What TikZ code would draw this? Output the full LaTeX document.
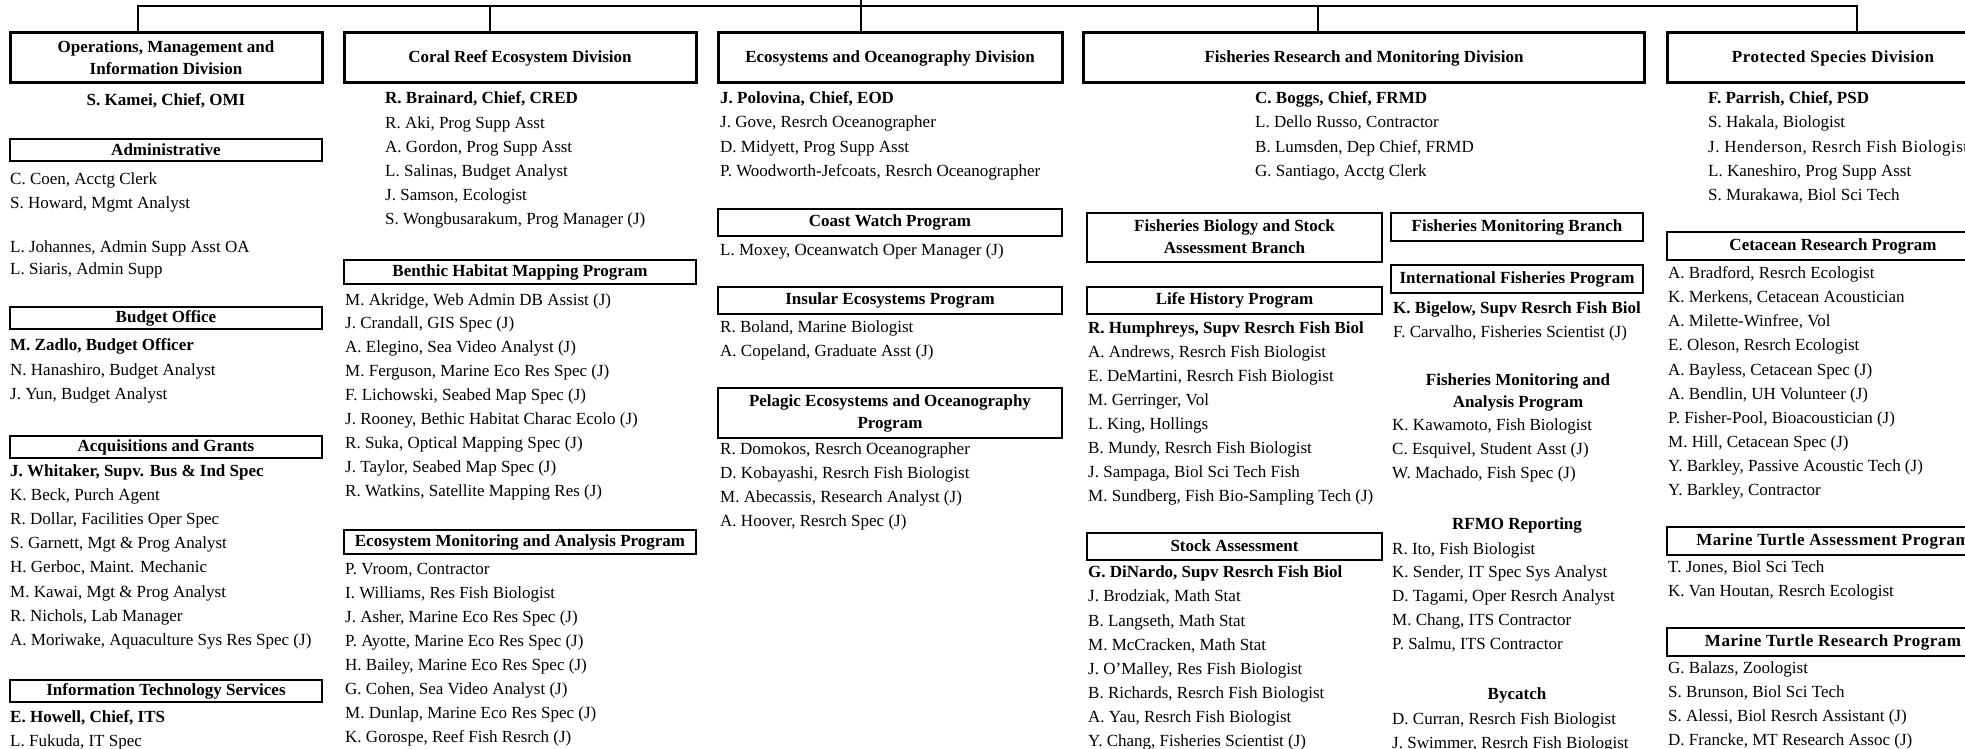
\documentclass[tikz,border=0pt]{standalone}
\usepackage{fontspec}
\setmainfont{Liberation Serif}
\usetikzlibrary{positioning}
\newcommand{\spread}{\addfontfeatures{LetterSpace=3}}

\begin{document}
\fontsize{17}{22}\selectfont
\begin{tikzpicture}[
    x=1pt, y=-1pt,
    division/.style={rectangle, draw, line width=3pt, minimum height=50pt, inner sep=0pt, align=center, font=\bfseries},
    unit/.style={rectangle, draw, line width=2pt, minimum height=25pt, inner sep=0pt, align=center, font=\bfseries},
    subhead/.style={inner sep=0pt, align=center, font=\bfseries},
    staff/.style={anchor=west, inner sep=0pt, text height=11.5pt, text depth=0pt},
    chief/.style={staff, font=\bfseries},
    link/.style={line width=2.7pt}
]
\useasboundingbox (0,0) rectangle (1965,749);
\clip (0,0) rectangle (1965,749);

% Operations, Management and Information Division
\node[division, minimum width=312pt] (omi) at (166,58) {Operations, Management and\\Information Division};
\node[chief, anchor=center] (omi0) at (166,100) {S. Kamei, Chief, OMI};

\node[unit, minimum width=312pt, minimum height=22pt] (admin) at (166,150) {Administrative};
\node[staff] (admin1) at (10,179) {C. Coen, Acctg Clerk};
\node[staff] (admin2) at (10,203) {S. Howard, Mgmt Analyst};
\node[staff] (admin3) at (10,247) {L. Johannes, Admin Supp Asst OA};
\node[staff] (admin4) at (10,269) {L. Siaris, Admin Supp};

\node[unit, minimum width=312pt, minimum height=22pt] (budget) at (166,318) {Budget Office};
\node[chief] (budget1) at (10,345) {M. Zadlo, Budget Officer};
\node[staff] (budget2) at (10,370) {N. Hanashiro, Budget Analyst};
\node[staff] (budget3) at (10,394) {J. Yun, Budget Analyst};

\node[unit, minimum width=312pt, minimum height=22pt] (acq) at (166,447) {Acquisitions and Grants};
\node[chief] (acq1) at (10,471) {J. Whitaker, Supv. Bus \& Ind Spec};
\node[staff] (acq2) at (10,495) {K. Beck, Purch Agent};
\node[staff] (acq3) at (10,519) {R. Dollar, Facilities Oper Spec};
\node[staff] (acq4) at (10,543) {S. Garnett, Mgt \& Prog Analyst};
\node[staff] (acq5) at (10,567) {H. Gerboc, Maint. Mechanic};
\node[staff] (acq6) at (10,592) {M. Kawai, Mgt \& Prog Analyst};
\node[staff] (acq7) at (10,616) {R. Nichols, Lab Manager};
\node[staff] (acq8) at (10,640) {A. Moriwake, Aquaculture Sys Res Spec (J)};

\node[unit, minimum width=312pt, minimum height=22pt] (its) at (166,691) {Information Technology Services};
\node[chief] (its1) at (10,717) {E. Howell, Chief, ITS};
\node[staff] (its2) at (10,741) {L. Fukuda, IT Spec};

% Coral Reef Ecosystem Division
\node[division, minimum width=352pt] (cred) at (520,58) {Coral Reef Ecosystem Division};
\node[chief] (cred0) at (385,98) {R. Brainard, Chief, CRED};
\node[staff] (cred1) at (385,123) {R. Aki, Prog Supp Asst};
\node[staff] (cred2) at (385,147) {A. Gordon, Prog Supp Asst};
\node[staff] (cred3) at (385,171) {L. Salinas, Budget Analyst};
\node[staff] (cred4) at (385,195) {J. Samson, Ecologist};
\node[staff] (cred5) at (385,219) {S. Wongbusarakum, Prog Manager (J)};

\node[unit, minimum width=352pt, minimum height=24pt] (benthic) at (520,272) {Benthic Habitat Mapping Program};
\node[staff] (benthic1) at (345,300) {M. Akridge, Web Admin DB Assist (J)};
\node[staff] (benthic2) at (345,323) {J. Crandall, GIS Spec (J)};
\node[staff] (benthic3) at (345,347) {A. Elegino, Sea Video Analyst (J)};
\node[staff] (benthic4) at (345,371) {M. Ferguson, Marine Eco Res Spec (J)};
\node[staff] (benthic5) at (345,395) {F. Lichowski, Seabed Map Spec (J)};
\node[staff] (benthic6) at (345,419) {J. Rooney, Bethic Habitat Charac Ecolo (J)};
\node[staff] (benthic7) at (345,443) {R. Suka, Optical Mapping Spec (J)};
\node[staff] (benthic8) at (345,467) {J. Taylor, Seabed Map Spec (J)};
\node[staff] (benthic9) at (345,491) {R. Watkins, Satellite Mapping Res (J)};

\node[unit, minimum width=352pt, minimum height=24pt] (ecomon) at (520,542) {Ecosystem Monitoring and Analysis Program};
\node[staff] (ecomon1) at (345,569) {P. Vroom, Contractor};
\node[staff] (ecomon2) at (345,593) {I. Williams, Res Fish Biologist};
\node[staff] (ecomon3) at (345,617) {J. Asher, Marine Eco Res Spec (J)};
\node[staff] (ecomon4) at (345,641) {P. Ayotte, Marine Eco Res Spec (J)};
\node[staff] (ecomon5) at (345,665) {H. Bailey, Marine Eco Res Spec (J)};
\node[staff] (ecomon6) at (345,689) {G. Cohen, Sea Video Analyst (J)};
\node[staff] (ecomon7) at (345,713) {M. Dunlap, Marine Eco Res Spec (J)};
\node[staff] (ecomon8) at (345,737) {K. Gorospe, Reef Fish Resrch (J)};

% Ecosystems and Oceanography Division
\node[division, minimum width=344pt] (eod) at (890,58) {Ecosystems and Oceanography Division};
\node[chief] (eod0) at (720,98) {J. Polovina, Chief, EOD};
\node[staff] (eod1) at (720,122) {J. Gove, Resrch Oceanographer};
\node[staff] (eod2) at (720,147) {D. Midyett, Prog Supp Asst};
\node[staff] (eod3) at (720,171) {P. Woodworth-Jefcoats, Resrch Oceanographer};

\node[unit, minimum width=344pt, minimum height=27pt] (coast) at (890,222) {Coast Watch Program};
\node[staff] (coast1) at (720,250) {L. Moxey, Oceanwatch Oper Manager (J)};

\node[unit, minimum width=344pt, minimum height=27pt] (insular) at (890,300) {Insular Ecosystems Program};
\node[staff] (insular1) at (720,327) {R. Boland, Marine Biologist};
\node[staff] (insular2) at (720,351) {A. Copeland, Graduate Asst (J)};

\node[unit, minimum width=344pt, minimum height=50pt] (pelagic) at (890,413) {Pelagic Ecosystems and Oceanography\\Program};
\node[staff] (pelagic1) at (720,449) {R. Domokos, Resrch Oceanographer};
\node[staff] (pelagic2) at (720,473) {D. Kobayashi, Resrch Fish Biologist};
\node[staff] (pelagic3) at (720,497) {M. Abecassis, Research Analyst (J)};
\node[staff] (pelagic4) at (720,521) {A. Hoover, Resrch Spec (J)};

% Fisheries Research and Monitoring Division
\node[division, minimum width=561pt] (frmd) at (1364,58) {Fisheries Research and Monitoring Division};
\node[chief] (frmd0) at (1255,98) {C. Boggs, Chief, FRMD};
\node[staff] (frmd1) at (1255,122) {L. Dello Russo, Contractor};
\node[staff] (frmd2) at (1255,147) {B. Lumsden, Dep Chief, FRMD};
\node[staff] (frmd3) at (1255,171) {G. Santiago, Acctg Clerk};

\node[unit, minimum width=295pt, minimum height=49pt] (fbsa) at (1234.5,237) {Fisheries Biology and Stock\\Assessment Branch};
\node[unit, minimum width=252pt, minimum height=28pt] (fmb) at (1517,227) {Fisheries Monitoring Branch};

\node[unit, minimum width=295pt, minimum height=27pt] (life) at (1234.5,300) {Life History Program};
\node[chief] (life1) at (1088,328) {R. Humphreys, Supv Resrch Fish Biol};
\node[staff] (life2) at (1088,352) {A. Andrews, Resrch Fish Biologist};
\node[staff] (life3) at (1088,376) {E. DeMartini, Resrch Fish Biologist};
\node[staff] (life4) at (1088,400) {M. Gerringer, Vol};
\node[staff] (life5) at (1088,424) {L. King, Hollings};
\node[staff] (life6) at (1088,448) {B. Mundy, Resrch Fish Biologist};
\node[staff] (life7) at (1088,472) {J. Sampaga, Biol Sci Tech Fish};
\node[staff] (life8) at (1088,496) {M. Sundberg, Fish Bio-Sampling Tech (J)};

\node[unit, minimum width=295pt, minimum height=27pt] (stock) at (1234.5,546) {Stock Assessment};
\node[chief] (stock1) at (1088,572) {G. DiNardo, Supv Resrch Fish Biol};
\node[staff] (stock2) at (1088,596) {J. Brodziak, Math Stat};
\node[staff] (stock3) at (1088,621) {B. Langseth, Math Stat};
\node[staff] (stock4) at (1088,645) {M. McCracken, Math Stat};
\node[staff] (stock5) at (1088,669) {J. O'Malley, Res Fish Biologist};
\node[staff] (stock6) at (1088,693) {B. Richards, Resrch Fish Biologist};
\node[staff] (stock7) at (1088,717) {A. Yau, Resrch Fish Biologist};
\node[staff] (stock8) at (1088,741) {Y. Chang, Fisheries Scientist (J)};

\node[unit, minimum width=252pt, minimum height=28pt] (intl) at (1517,279) {International Fisheries Program};
\node[chief] (intl1) at (1393,308) {K. Bigelow, Supv Resrch Fish Biol};
\node[staff] (intl2) at (1393,332) {F. Carvalho, Fisheries Scientist (J)};

\node[subhead] (fmap) at (1518,392) {Fisheries Monitoring and\\Analysis Program};
\node[staff] (fmap1) at (1392,425) {K. Kawamoto, Fish Biologist};
\node[staff] (fmap2) at (1392,449) {C. Esquivel, Student Asst (J)};
\node[staff] (fmap3) at (1392,473) {W. Machado, Fish Spec (J)};

\node[subhead] (rfmo) at (1517,525) {RFMO Reporting};
\node[staff] (rfmo1) at (1392,549) {R. Ito, Fish Biologist};
\node[staff] (rfmo2) at (1392,572) {K. Sender, IT Spec Sys Analyst};
\node[staff] (rfmo3) at (1392,596) {D. Tagami, Oper Resrch Analyst};
\node[staff] (rfmo4) at (1392,620) {M. Chang, ITS Contractor};
\node[staff] (rfmo5) at (1392,644) {P. Salmu, ITS Contractor};

\node[subhead] (bycatch) at (1517,695) {Bycatch};
\node[staff] (bycatch1) at (1392,719) {D. Curran, Resrch Fish Biologist};
\node[staff] (bycatch2) at (1392,743) {J. Swimmer, Resrch Fish Biologist};

% Protected Species Division
\node[division, minimum width=332pt, font=\bfseries\spread] (psd) at (1833,58) {Protected Species Division};
\node[chief] (psd0) at (1708,98) {F. Parrish, Chief, PSD};
\node[staff] (psd1) at (1708,122) {S. Hakala, Biologist};
\node[staff, font=\spread] (psd2) at (1708,147) {J. Henderson, Resrch Fish Biologist};
\node[staff] (psd3) at (1708,171) {L. Kaneshiro, Prog Supp Asst};
\node[staff] (psd4) at (1708,195) {S. Murakawa, Biol Sci Tech};

\node[unit, minimum width=332pt, minimum height=28pt] (cetacean) at (1833,246) {Cetacean Research Program};
\node[staff] (cetacean1) at (1668,273) {A. Bradford, Resrch Ecologist};
\node[staff] (cetacean2) at (1668,297) {K. Merkens, Cetacean Acoustician};
\node[staff] (cetacean3) at (1668,321) {A. Milette-Winfree, Vol};
\node[staff] (cetacean4) at (1668,345) {E. Oleson, Resrch Ecologist};
\node[staff] (cetacean5) at (1668,370) {A. Bayless, Cetacean Spec (J)};
\node[staff] (cetacean6) at (1668,394) {A. Bendlin, UH Volunteer (J)};
\node[staff] (cetacean7) at (1668,418) {P. Fisher-Pool, Bioacoustician (J)};
\node[staff] (cetacean8) at (1668,442) {M. Hill, Cetacean Spec (J)};
\node[staff] (cetacean9) at (1668,466) {Y. Barkley, Passive Acoustic Tech (J)};
\node[staff] (cetacean10) at (1668,490) {Y. Barkley, Contractor};

\node[unit, minimum width=332pt, minimum height=28pt, font=\bfseries\spread] (mta) at (1833,541) {Marine Turtle Assessment Program};
\node[staff] (mta1) at (1668,567) {T. Jones, Biol Sci Tech};
\node[staff] (mta2) at (1668,591) {K. Van Houtan, Resrch Ecologist};

\node[unit, minimum width=332pt, minimum height=28pt, font=\bfseries\spread] (mtr) at (1833,642) {Marine Turtle Research Program};
\node[staff] (mtr1) at (1668,668) {G. Balazs, Zoologist};
\node[staff] (mtr2) at (1668,692) {S. Brunson, Biol Sci Tech};
\node[staff] (mtr3) at (1668,716) {S. Alessi, Biol Resrch Assistant (J)};
\node[staff] (mtr4) at (1668,740) {D. Francke, MT Research Assoc (J)};

% connectors
\coordinate (dir) at (861,0);
\coordinate (d1) at (138,6);
\coordinate (d2) at (490,6);
\coordinate (d4) at (1318,6);
\coordinate (d5) at (1857,6);
\draw[link] (d1 |- omi.north) -- (d1) -- (d5) -- (d5 |- psd.north);
\draw[link] (d2) -- (d2 |- cred.north);
\draw[link] (dir) -- (dir |- eod.north);
\draw[link] (d4) -- (d4 |- frmd.north);

\end{tikzpicture}
\end{document}
